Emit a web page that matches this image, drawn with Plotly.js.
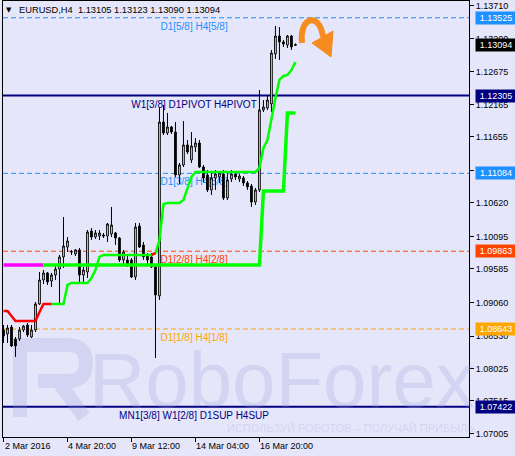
<!DOCTYPE html>
<html><head><meta charset="utf-8">
<script src="https://cdn.plot.ly/plotly-3.0.1.min.js"></script>
<style>html,body{margin:0;padding:0;background:#E6E6FA;}#chart{width:515px;height:456px;}</style>
</head><body><div id="chart"></div>
<script>
// ---------- data ----------
const symbol = 'EURUSD,H4';
const open = [1.08628,1.08565,1.08675,1.08486,1.08486,1.08628,1.08706,1.08518,1.08628,1.09036,
  1.09412,1.09522,1.09396,1.09490,1.09584,1.09773,1.09930,1.09851,1.09820,1.09883,
  1.09490,1.09537,1.10181,1.10086,1.10102,1.10118,1.10102,1.10134,1.10149,1.10071,
  1.09726,1.09726,1.09726,1.09459,1.10259,1.09961,1.09804,1.09773,1.09616,1.09161,
  1.11890,1.11718,1.11812,1.11733,1.11059,1.11216,1.11530,1.11294,1.11498,1.11561,
  1.11184,1.11059,1.10824,1.11012,1.11028,1.11075,1.10698,1.10996,1.11075,1.10996,
  1.11012,1.10934,1.10886,1.10635,1.10824,1.12079,1.12110,1.12173,1.12957,1.13239,
  1.13145,1.13098,1.13239,1.13105];
const high = [1.08706,1.08706,1.08706,1.08518,1.08675,1.08706,1.08737,1.08706,1.09067,1.09537,
  1.09569,1.09537,1.09522,1.09647,1.09804,1.10400,1.10086,1.09883,1.09898,1.09914,
  1.09616,1.10196,1.10228,1.10196,1.10196,1.10149,1.10306,1.10557,1.10165,1.10086,
  1.09883,1.09804,1.09757,1.10306,1.10306,1.10008,1.09835,1.09835,1.09647,1.12110,
  1.12157,1.12032,1.11828,1.11890,1.11247,1.11906,1.11608,1.11733,1.11639,1.11608,
  1.11216,1.11137,1.11106,1.11137,1.11106,1.11137,1.11090,1.11137,1.11106,1.11075,
  1.11043,1.10965,1.10918,1.10855,1.12392,1.12235,1.12298,1.13020,1.13396,1.13380,
  1.13177,1.13255,1.13255,1.13123];
const low = [1.08424,1.08424,1.08361,1.08204,1.08455,1.08596,1.08518,1.08502,1.08596,1.09020,
  1.09349,1.09334,1.09302,1.09412,1.09051,1.09600,1.09851,1.09804,1.09788,1.09365,
  1.09381,1.09443,1.10039,1.10055,1.10039,1.10071,1.10008,1.10086,1.09961,1.09694,
  1.09647,1.09616,1.09443,1.09412,1.09914,1.09726,1.09647,1.09600,1.08188,1.09098,
  1.11686,1.11686,1.11702,1.11028,1.10918,1.11184,1.11388,1.11247,1.11420,1.11169,
  1.10949,1.10792,1.10745,1.10824,1.10934,1.10667,1.10667,1.10949,1.10981,1.10949,
  1.10886,1.10824,1.10557,1.10588,1.10792,1.12047,1.12079,1.12047,1.12879,1.12863,
  1.13067,1.13051,1.13020,1.13090];
const close = [1.08533,1.08659,1.08377,1.08377,1.08628,1.08690,1.08549,1.08628,1.09036,1.09412,
  1.09522,1.09381,1.09490,1.09584,1.09773,1.09945,1.10024,1.09855,1.09883,1.09490,
  1.09569,1.10165,1.10086,1.10149,1.10149,1.10102,1.10290,1.10275,1.10071,1.09726,
  1.09851,1.09647,1.09459,1.10243,1.09930,1.09773,1.09726,1.09616,1.09177,1.11890,
  1.11718,1.11812,1.11733,1.11059,1.11216,1.11530,1.11420,1.11514,1.11561,1.11184,
  1.11012,1.10824,1.11012,1.11075,1.11090,1.10698,1.10981,1.11075,1.11028,1.11043,
  1.10934,1.10871,1.10635,1.10824,1.12079,1.12126,1.12235,1.12973,1.13239,1.13145,
  1.13114,1.13239,1.13067,1.13094];
// thick step line (magenta then green)
const trendA = [1.09647,1.09647,1.09647,1.09647,1.09647,1.09647,1.09647,1.09647,1.09647,1.09647,
  1.09647,1.09647,1.09647,1.09647,1.09647,1.09647,1.09647,1.09647,1.09647,1.09647,
  1.09647,1.09647,1.09647,1.09647,1.09647,1.09647,1.09647,1.09647,1.09647,1.09647,
  1.09647,1.09647,1.09647,1.09647,1.09647,1.09647,1.09647,1.09647,1.09647,1.09647,
  1.09647,1.09647,1.09647,1.09647,1.09647,1.09647,1.09647,1.09647,1.09647,1.09647,
  1.09647,1.09647,1.09647,1.09647,1.09647,1.09647,1.09647,1.09647,1.09647,1.09647,
  1.09647,1.09647,1.09647,1.09647,1.09647,1.10808,1.10808,1.10808,1.10808,1.10808,
  1.10808,1.12032,1.12032,1.12032];
// thin trailing line (red / green)
const trendB = [1.08926,1.08926,1.08847,1.08769,1.08769,1.08769,1.08769,1.08769,1.08769,1.08910,
  1.09036,1.09036,1.09036,1.09036,1.09036,1.09036,1.09334,1.09365,1.09365,1.09365,
  1.09365,1.09365,1.09443,1.09569,1.09773,1.09804,1.09804,1.09804,1.09804,1.09804,
  1.09804,1.09804,1.09804,1.09804,1.09804,1.09804,1.09804,1.09804,1.09835,1.10039,
  1.10604,1.10620,1.10620,1.10620,1.10620,1.10667,1.10855,1.11028,1.11106,1.11106,
  1.11106,1.11106,1.11106,1.11106,1.11106,1.11106,1.11106,1.11106,1.11106,1.11106,
  1.11106,1.11106,1.11106,1.11106,1.11169,1.11483,1.11608,1.11953,1.12267,1.12549,
  1.12612,1.12628,1.12706,1.12831];
const tickBars = [0, 16, 32, 48, 64];
const tickLabels = ['2 Mar 2016', '4 Mar 20:00', '9 Mar 12:00', '14 Mar 04:00', '16 Mar 20:00'];
const yTicks = [1.13710,1.13200,1.12675,1.12165,1.11655,1.11130,1.10620,1.10095,1.09585,1.09060,1.08530,1.08025,1.07515,1.07005];
const levels = [1.13525, 1.12305, 1.11084, 1.09863, 1.08643, 1.07422];
const levelNames = ['D1[5/8] H4[5/8]', 'W1[3/8] D1PIVOT H4PIVOT', 'D1[3/8] H4[3/8]', 'D1[2/8] H4[2/8]', 'D1[1/8] H4[1/8]', 'MN1[3/8] W1[2/8] D1SUP H4SUP'];

// ---------- styles ----------
const levelColors = ['#1E90FF', '#000080', '#1E90FF', '#FF4500', '#FFA500', '#000080'];
const levelDash = ['5px,3px', 'solid', '5px,3px', '5px,3px', '5px,3px', 'solid'];
const levelWidth = [1, 2, 1, 1, 1, 2];
const BG = '#E6E6FA';
const FONT = 'Liberation Sans, Arial, sans-serif';
const magentaEnd = 10, redEnd = 12, red2 = [37, 38];

const bars = open.map((_, i) => i);
const last = open.length - 1;

const traces = [
  {type: 'candlestick', x: bars, open: open, high: high, low: low, close: close,
   increasing: {line: {color: '#000000', width: 1}, fillcolor: '#FFFFFF'},
   decreasing: {line: {color: '#000000', width: 1}, fillcolor: '#000000'},
   whiskerwidth: 0, hoverinfo: 'skip', showlegend: false},
  {type: 'scatter', mode: 'lines', x: bars, y: trendA.map((v, i) => i <= magentaEnd ? v : null),
   line: {color: '#FF00FF', width: 3.5}, hoverinfo: 'skip', showlegend: false},
  {type: 'scatter', mode: 'lines', x: bars, y: trendA.map((v, i) => i >= magentaEnd ? v : null),
   line: {color: '#00FF00', width: 3.5}, hoverinfo: 'skip', showlegend: false},
  {type: 'scatter', mode: 'lines', x: bars, y: trendB.map((v, i) => i >= redEnd ? v : null),
   line: {color: '#00FF00', width: 2.5}, hoverinfo: 'skip', showlegend: false},
  {type: 'scatter', mode: 'lines', x: bars, y: trendB.map((v, i) => (i <= redEnd || (i >= red2[0] && i <= red2[1])) ? v : null),
   line: {color: '#FF0000', width: 2.5}, hoverinfo: 'skip', showlegend: false}
];

const shapes = [];
levels.forEach((lv, i) => {
  shapes.push({type: 'line', xref: 'paper', x0: 0, x1: 1, yref: 'y', y0: lv, y1: lv, layer: 'below',
    line: {color: levelColors[i], width: levelWidth[i], dash: levelDash[i]}});
  shapes.push({type: 'line', xref: 'paper', x0: 0, x1: 0.82, yref: 'y', y0: lv, y1: lv, layer: 'below',
    line: {color: 'rgba(0,0,0,0)', width: 1},
    label: {text: levelNames[i], font: {family: FONT, size: 10, color: levelColors[i]},
            textposition: 'middle', yanchor: 'top', padding: 2}});
});
// watermark logo
const WM = 'rgba(150,156,214,0.24)';
shapes.push({type: 'path', xref: 'paper', yref: 'paper', layer: 'below',
  path: 'M 0.0365 0.0459 L 0.0365 0.2110 L 0.1395 0.2110 Q 0.1781 0.2110 0.1781 0.1697 Q 0.1781 0.1284 0.1395 0.1284 L 0.0751 0.1284 M 0.1180 0.1284 L 0.1738 0.0459',
  line: {color: WM, width: 14}});
// orange arrow
const ORANGE = '#F68B1F';
shapes.push({type: 'path', xref: 'paper', yref: 'paper', layer: 'above',
  path: 'M 0.6416 0.9037 C 0.6352 0.9656 0.6803 0.9748 0.6867 0.9174',
  line: {color: ORANGE, width: 6}});
shapes.push({type: 'path', xref: 'paper', yref: 'paper', layer: 'above',
  path: 'M 0.6631 0.9037 L 0.7082 0.9312 L 0.7039 0.8716 Z',
  fillcolor: ORANGE, line: {color: ORANGE, width: 1}});

const annotations = [];
// price boxes on the right
const boxVals = [levels[0], close[last], levels[1], levels[2], levels[3], levels[4], levels[5]];
const boxColors = ['#1E90FF', '#000000', '#000080', '#1E90FF', '#FF4500', '#FFA500', '#000080'];
boxVals.forEach((v, i) => {
  annotations.push({xref: 'paper', x: 1.0129, xanchor: 'left', yref: 'y', y: v, yanchor: 'middle',
    text: v.toFixed(5), showarrow: false, bgcolor: boxColors[i], width: 38, height: 10, borderpad: 1,
    font: {family: FONT, size: 9, color: '#FFFFFF'}});
});
// x tick labels (left aligned at the tick)
tickBars.forEach((b, i) => {
  annotations.push({xref: 'x', x: b, xanchor: 'left', yref: 'paper', y: -0.0069, yanchor: 'top',
    text: tickLabels[i], showarrow: false, borderpad: 0,
    font: {family: FONT, size: 9, color: '#000000'}});
});
// header
annotations.push({xref: 'paper', x: 0.0043, xanchor: 'left', yref: 'paper', y: 0.979, yanchor: 'middle',
  text: '\u25BC', showarrow: false, borderpad: 0, font: {family: 'DejaVu Sans', size: 7, color: '#000'}});
annotations.push({xref: 'paper', x: 0.0322, xanchor: 'left', yref: 'paper', y: 0.979, yanchor: 'middle',
  text: symbol + '\u00A0\u00A0' + [open[last], high[last], low[last], close[last]].map(v => v.toFixed(5)).join(' '),
  showarrow: false, borderpad: 0, font: {family: FONT, size: 9.3, color: '#000'}});
// watermark text
annotations.push({xref: 'paper', x: 0.599, xanchor: 'center', yref: 'paper', y: 0.1307, yanchor: 'middle',
  text: 'RoboForex', showarrow: false, borderpad: 0,
  font: {family: 'Liberation Sans, Arial', size: 78, color: WM}});
annotations.push({xref: 'paper', x: 0.745, xanchor: 'center', yref: 'paper', y: 0.0206, yanchor: 'middle',
  text: 'ИСПОЛЬЗУЙ РОБОТОВ – ПОЛУЧАЙ ПРИБЫЛЬ', showarrow: false, borderpad: 0,
  font: {family: FONT, size: 11, color: 'rgba(150,156,214,0.25)'}});

const layout = {
  width: 515, height: 456,
  margin: {l: 3, r: 46, t: 1, b: 19, pad: 0},
  paper_bgcolor: BG, plot_bgcolor: BG,
  showlegend: false, boxgap: 0.4,
  xaxis: {range: [-0.125, 116.4], showline: true, mirror: true, linecolor: '#000', linewidth: 1,
    ticks: 'outside', ticklen: 4, tickcolor: '#000', tickvals: tickBars, showticklabels: false,
    showgrid: false, zeroline: false, rangeslider: {visible: false}, fixedrange: true},
  yaxis: {range: [1.06949, 1.13788], side: 'right', showline: true, mirror: true, linecolor: '#000', linewidth: 1,
    ticks: 'outside', ticklen: 4, tickcolor: '#000', tickvals: yTicks, ticktext: yTicks.map(v => v.toFixed(5)),
    tickfont: {family: FONT, size: 9, color: '#000'}, showgrid: false, zeroline: false, fixedrange: true},
  shapes: shapes,
  annotations: annotations
};

Plotly.newPlot('chart', traces, layout, {staticPlot: true, displayModeBar: false});
</script>
</body></html>
